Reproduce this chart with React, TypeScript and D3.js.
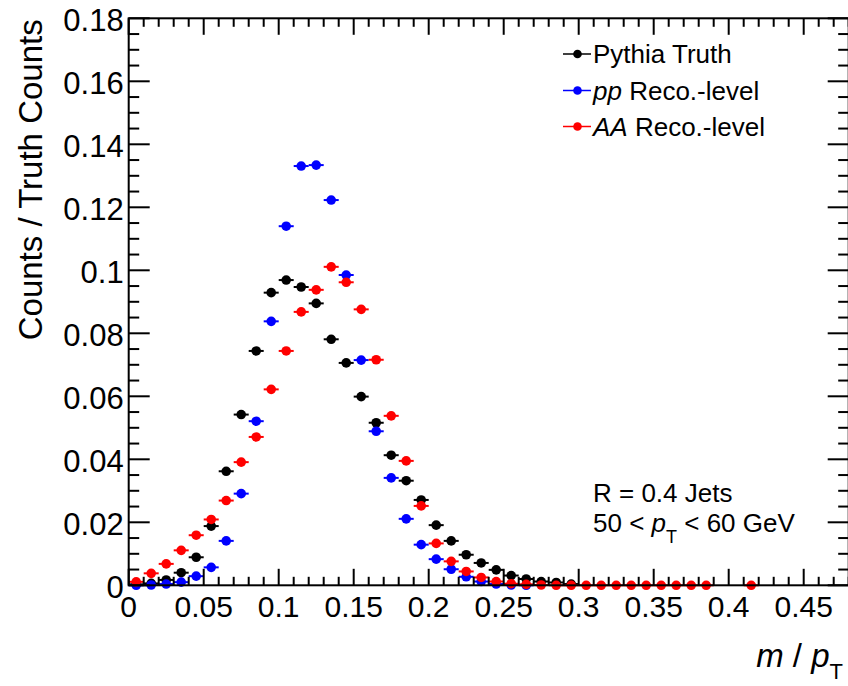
import React from "react";
import * as d3 from "d3";

const binCenters = [
  0.005, 0.015, 0.025, 0.035, 0.045, 0.055, 0.065, 0.075, 0.085, 0.095,
  0.105, 0.115, 0.125, 0.135, 0.145, 0.155, 0.165, 0.175, 0.185, 0.195,
  0.205, 0.215, 0.225, 0.235, 0.245, 0.255, 0.265, 0.275, 0.285, 0.295,
  0.305, 0.315, 0.325, 0.335, 0.345, 0.355, 0.365, 0.375, 0.385, 0.395,
  0.405, 0.415,
];

// null = bin not drawn
const truthValues: (number | null)[] = [
  0.0003, 0.0006, 0.0017, 0.004, 0.0089, 0.0188, 0.0362, 0.0542, 0.0744, 0.0929,
  0.0969, 0.0947, 0.0895, 0.0781, 0.0706, 0.0599, 0.0516, 0.0413, 0.0332, 0.0271,
  0.0191, 0.0141, 0.0097, 0.0071, 0.0049, 0.0031, 0.002, 0.0012, 0.0009, 0.0004,
  null, null, null, null, null, null, null, null, null, null, null, null,
];

const ppValues: (number | null)[] = [
  0.0, 0.0001, 0.0004, 0.001, 0.0029, 0.0057, 0.0141, 0.0291, 0.0521, 0.0838,
  0.114, 0.1331, 0.1334, 0.1223, 0.0985, 0.0715, 0.0489, 0.0341, 0.0211, 0.0129,
  0.0083, 0.0051, 0.0027, 0.0012, 0.0004, 0.0001, 0.0, null, null, null,
  null, null, null, null, null, null, null, null, null, null, null, null,
];

const aaValues: (number | null)[] = [
  0.0011, 0.0038, 0.0068, 0.0111, 0.0159, 0.0209, 0.0269, 0.0391, 0.0471, 0.0622,
  0.0744, 0.0868, 0.0938, 0.1011, 0.0962, 0.0876, 0.0716, 0.0538, 0.0395, 0.0252,
  0.0133, 0.0076, 0.0044, 0.0025, 0.0012, 0.0005, 0.0003, 0.0001, 0.0, 0.0,
  0.0, 0.0, 0.0, 0.0, 0.0, 0.0, 0.0, 0.0, 0.0, null, null, 0.0,
];

const binWidth = 0.01;

const xTicks = [0, 0.05, 0.1, 0.15, 0.2, 0.25, 0.3, 0.35, 0.4, 0.45];
const xTickLabels = ["0", "0.05", "0.1", "0.15", "0.2", "0.25", "0.3", "0.35", "0.4", "0.45"];
const yTicks = [0, 0.02, 0.04, 0.06, 0.08, 0.1, 0.12, 0.14, 0.16, 0.18];
const yTickLabels = ["0", "0.02", "0.04", "0.06", "0.08", "0.1", "0.12", "0.14", "0.16", "0.18"];

const seriesNames = ["Pythia Truth", "pp Reco.-level", "AA Reco.-level"];
const seriesColors = ["#000000", "#0000ff", "#ff0000"];

const W = 848;
const H = 686;
const left = 128.7;
const right = 848.7;
const top = 18.3;
const bottom = 585.3;
const FONT = "'Liberation Sans', Arial, Helvetica, sans-serif";

export default function App() {
  const x = d3.scaleLinear().domain([0, 0.48]).range([left, right]);
  const y = d3.scaleLinear().domain([0, 0.18]).range([bottom, top]);

  const xMinor = d3.range(0, 49).map((i) => i * 0.01);
  const yMinor = d3.range(0, 37).map((i) => i * 0.005);

  const allSeries = [truthValues, ppValues, aaValues];

  return (
    <svg
      width={W}
      height={H}
      style={{ position: "absolute", left: 0, top: 0, background: "#fff" }}
      fontFamily={FONT}
    >
      <rect x={0} y={0} width={W} height={H} fill="#fff" />
      {/* data */}
      {allSeries.map((vals, si) => (
        <g key={si} fill={seriesColors[si]} stroke={seriesColors[si]}>
          {vals.map((v, i) => {
            if (v === null) return null;
            const cx = x(binCenters[i]);
            const cy = y(v);
            return (
              <g key={i}>
                <line
                  x1={x(binCenters[i] - binWidth / 2)}
                  x2={x(binCenters[i] + binWidth / 2)}
                  y1={cy}
                  y2={cy}
                  strokeWidth={2}
                />
                <circle cx={cx} cy={cy} r={4.8} stroke="none" />
              </g>
            );
          })}
        </g>
      ))}

      {/* frame */}
      <rect
        x={left}
        y={top}
        width={right - left}
        height={bottom - top}
        fill="none"
        stroke="#000"
        strokeWidth={2}
      />
      {/* x ticks */}
      {xMinor.map((t, i) => {
        const major = i % 5 === 0;
        const len = major ? 16.5 : 8.5;
        const px = x(t);
        return (
          <g key={"xt" + i} stroke="#000" strokeWidth={2}>
            <line x1={px} x2={px} y1={bottom} y2={bottom - len} />
            <line x1={px} x2={px} y1={top} y2={top + len} />
          </g>
        );
      })}
      {/* y ticks */}
      {yMinor.map((t, i) => {
        const major = i % 4 === 0;
        const len = major ? 21 : 10.5;
        const py = y(t);
        return (
          <g key={"yt" + i} stroke="#000" strokeWidth={2}>
            <line x1={left} x2={left + len} y1={py} y2={py} />
            <line x1={right} x2={right - len} y1={py} y2={py} />
          </g>
        );
      })}
      {/* x tick labels */}
      {xTicks.map((t, i) => (
        <text key={"xl" + i} x={x(t)} y={617} fontSize={30} textAnchor="middle" fill="#000">
          {xTickLabels[i]}
        </text>
      ))}
      {/* y tick labels */}
      {yTicks.map((t, i) => (
        <text key={"yl" + i} x={left - 5} y={y(t) + 13} fontSize={31} textAnchor="end" fill="#000">
          {yTickLabels[i]}
        </text>
      ))}

      {/* axis titles */}
      <text
        transform={`translate(42, ${top + 1}) rotate(-90)`}
        textAnchor="end"
        fontSize={33}
        fill="#000"
      >
        Counts / Truth Counts
      </text>
      <text x={843} y={667} textAnchor="end" fontSize={33} fill="#000">
        <tspan fontStyle="italic">m</tspan>
        <tspan> / </tspan>
        <tspan fontStyle="italic">p</tspan>
        <tspan fontSize={22} dy={12}>T</tspan>
      </text>

      {/* legend */}
      {seriesNames.map((name, i) => {
        const ly = [54, 90.5, 126.5][i];
        return (
          <g key={"lg" + i}>
            <line x1={563} x2={591} y1={ly} y2={ly} stroke={seriesColors[i]} strokeWidth={1.5} />
            <circle cx={577.5} cy={ly} r={4.3} fill={seriesColors[i]} />
            <text x={593} y={ly + 9} fontSize={26} fill="#000">
              {i === 0 ? (
                name
              ) : (
                <>
                  <tspan fontStyle="italic">{name.split(" ")[0]}</tspan>
                  <tspan>{" " + name.split(" ").slice(1).join(" ")}</tspan>
                </>
              )}
            </text>
          </g>
        );
      })}

      {/* annotation */}
      <text x={593} y={502} fontSize={26} fill="#000">
        R = 0.4 Jets
      </text>
      <text x={593} y={532} fontSize={26} fill="#000">
        <tspan>50 &lt; </tspan>
        <tspan fontStyle="italic">p</tspan>
        <tspan fontSize={18} dy={11}>T</tspan>
        <tspan dy={-11}> &lt; 60 GeV</tspan>
      </text>
    </svg>
  );
}
